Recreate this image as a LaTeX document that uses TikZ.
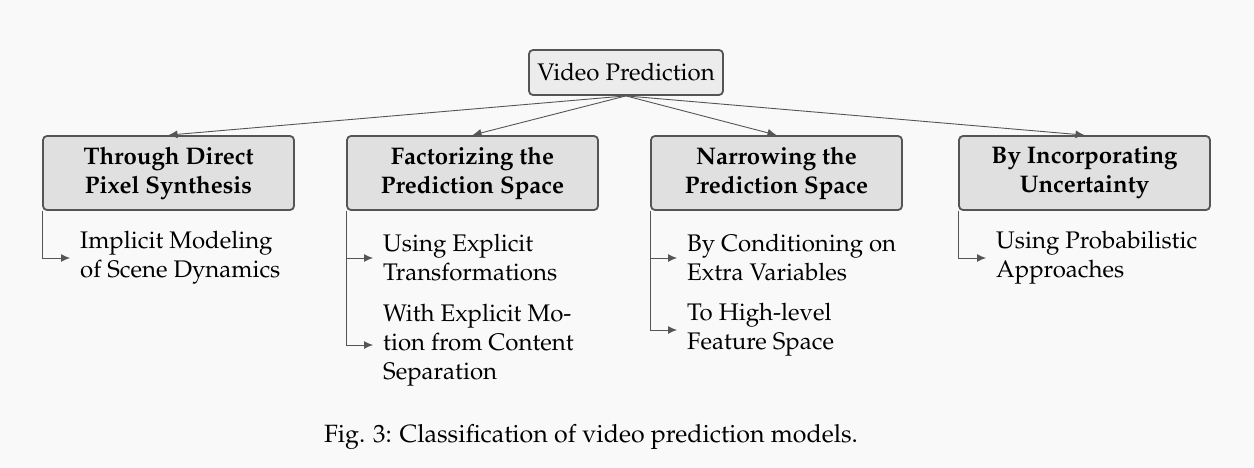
\documentclass[tikz,border=0pt]{standalone}
\usepackage[T1]{fontenc}
\renewcommand{\rmdefault}{ppl}
\usetikzlibrary{arrows.meta}
\definecolor{bgc}{HTML}{F9F9F9}
\definecolor{edgec}{HTML}{555555}
\definecolor{rootfill}{HTML}{ECECEC}
\definecolor{catfill}{HTML}{E0E0E0}
\definecolor{linec}{HTML}{555555}
\tikzset{
  rootbox/.style={draw=edgec, fill=rootfill, line width=1.8pt, rounded corners=4pt,
    minimum width=194pt, minimum height=45pt, inner sep=0pt,
    font=\fontsize{24}{29}\selectfont},
  catbox/.style={draw=edgec, fill=catfill, line width=1.8pt, rounded corners=4pt,
    minimum width=251pt, minimum height=74pt, inner sep=0pt, align=center,
    font=\fontsize{24}{29}\selectfont\bfseries},
  leaf/.style={anchor=west, align=left, inner xsep=10pt, inner ysep=0pt,
    font=\fontsize{24}{29}\selectfont},
  conn/.style={draw=linec, line width=0.9pt, -{Latex[length=9pt,width=8pt]}},
  captxt/.style={anchor=base, inner sep=0pt, font=\fontsize{25}{30}\selectfont}
}
\begin{document}
\begin{tikzpicture}[x=1pt,y=-1pt]
\useasboundingbox[fill=bgc] (0,0) rectangle (1254,468);
\node[rootbox] (root) at (626,72.5) {Video Prediction};
\node[catbox] (b1) at (168.5,173) {Through Direct\\Pixel Synthesis};
\node[catbox] (b2) at (472.5,173) {Factorizing the\\Prediction Space};
\node[catbox] (b3) at (776.5,173) {Narrowing the\\Prediction Space};
\node[catbox] (b4) at (1084.5,173) {By Incorporating\\Uncertainty};
\foreach \b in {b1,b2,b3,b4} \draw[conn] (root.south) -- (\b.north);
\node[leaf] (c11) at (70,258) {Implicit Modeling\\of Scene Dynamics};
\node[leaf] (c21) at (373,258) {Using Explicit\\Transformations};
\node[leaf] (c22) at (373,345) {With Explicit Mo-\\tion from Content\\Separation};
\node[leaf] (c31) at (677,258) {By Conditioning on\\Extra Variables};
\node[leaf] (c32) at (677,330) {To High-level\\Feature Space};
\node[leaf] (c41) at (986,258) {Using Probabilistic\\Approaches};
\draw[conn] (b1.south west) |- (c11.west);
\draw[conn] (b2.south west) |- (c21.west);
\draw[conn] (b2.south west) |- (c22.west);
\draw[conn] (b3.south west) |- (c31.west);
\draw[conn] (b3.south west) |- (c32.west);
\draw[conn] (b4.south west) |- (c41.west);
\node[captxt] (cap) at (591,442) {Fig. 3: Classification of video prediction models.};
\end{tikzpicture}
\end{document}
